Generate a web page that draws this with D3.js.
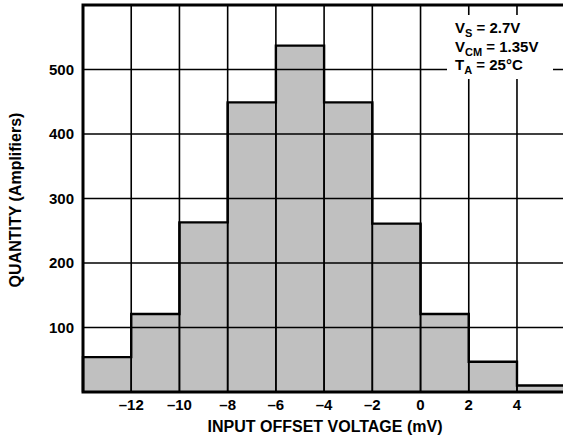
<!DOCTYPE html>
<html><head><meta charset="utf-8">
<script src="https://cdn.jsdelivr.net/npm/d3@7"></script>
<style>
html,body{margin:0;padding:0;background:#fff;}
svg text{font-family:"Liberation Sans",Arial,Helvetica,sans-serif;font-weight:bold;fill:#000;}
</style></head>
<body><svg id="c" width="563" height="441"></svg>
<script>
const binStarts = [-14,-12,-10,-8,-6,-4,-2,0,2,4];
const binWidth = 2;
const counts = [54,121,263,449,537,449,261,121,47,10];
const xTicks = [-12,-10,-8,-6,-4,-2,0,2,4];
const yTicks = [100,200,300,400,500];
const xTitle = "INPUT OFFSET VOLTAGE (mV)";
const yTitle = "QUANTITY (Amplifiers)";

const svg = d3.select("#c");
const x = d3.scaleLinear().domain([-14,6]).range([83,565.2]);
const y = d3.scaleLinear().domain([0,600]).range([392,5]);

// bars
svg.append("g").selectAll("rect").data(counts).join("rect")
  .attr("x",(d,i)=>x(binStarts[i]))
  .attr("width",(d,i)=>x(binStarts[i]+binWidth)-x(binStarts[i]))
  .attr("y",d=>y(d))
  .attr("height",d=>y(0)-y(d))
  .attr("fill","#c0c0c0");

// grid
const grid = svg.append("g").attr("stroke","#000").attr("stroke-width",1.6);
grid.selectAll(".v").data(d3.range(-12,6,2)).join("line")
  .attr("x1",d=>x(d)).attr("x2",d=>x(d)).attr("y1",y(600)).attr("y2",y(0));
grid.selectAll(".h").data(yTicks).join("line")
  .attr("x1",x(-14)).attr("x2",x(6)).attr("y1",d=>y(d)).attr("y2",d=>y(d));

// histogram step outline
const pts = [];
counts.forEach((c,i)=>{ pts.push([x(binStarts[i]),y(c)]); pts.push([x(binStarts[i]+binWidth),y(c)]); });
const stepPts = [[x(-14),y(0)],...pts,[x(6),y(0)]];
svg.append("path").attr("d",d3.line()(stepPts)).attr("fill","none").attr("stroke","#000").attr("stroke-width",2.4);
// vertical edges between bins drawn down to the base
svg.append("g").selectAll("line").data(binStarts.slice(1)).join("line")
  .attr("x1",d=>x(d)).attr("x2",d=>x(d))
  .attr("y1",(d,i)=>y(Math.max(counts[i],counts[i+1]))).attr("y2",y(0))
  .attr("stroke","#000").attr("stroke-width",1.6);

// legend box (white) and text
svg.append("rect").attr("x",447).attr("y",15).attr("width",106).attr("height",64).attr("fill","#fff");
const leg = svg.append("g").attr("font-size",15);
function legLine(yy, main, sub, rest){
  const t = leg.append("text").attr("x",455).attr("y",yy);
  t.append("tspan").text(main);
  t.append("tspan").attr("font-size",11).attr("dy",4).text(sub);
  t.append("tspan").attr("dy",-4).text(rest);
}
legLine(33,"V","S"," = 2.7V");
legLine(51.5,"V","CM"," = 1.35V");
legLine(70,"T","A"," = 25°C");

// frame
svg.append("rect").attr("x",x(-14)).attr("y",y(600)).attr("width",x(6)-x(-14)).attr("height",y(0)-y(600))
  .attr("fill","none").attr("stroke","#000").attr("stroke-width",3);

// tick labels
svg.append("g").attr("font-size",15).attr("text-anchor","middle").selectAll("text").data(xTicks).join("text")
  .attr("x",d=>x(d)).attr("y",410)
  .text(d=>d<0?"\u2013"+Math.abs(d):String(d));
svg.append("g").attr("font-size",15).attr("text-anchor","end").selectAll("text").data(yTicks).join("text")
  .attr("x",74).attr("y",d=>y(d)).attr("dy","0.36em").text(d=>d);

// axis titles
svg.append("text").attr("x",325).attr("y",432).attr("text-anchor","middle").attr("font-size",16).text(xTitle);
svg.append("text").attr("transform","translate(21,200) rotate(-90)").attr("text-anchor","middle").attr("font-size",16).text(yTitle);
</script></body></html>
